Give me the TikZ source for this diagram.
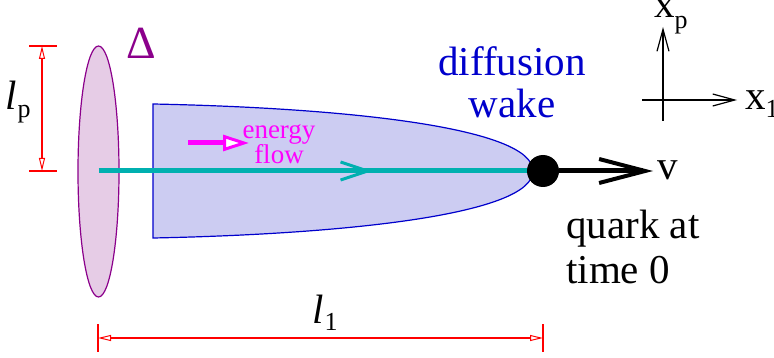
\documentclass[tikz,border=0pt]{standalone}
\usepackage{fontspec}
\setmainfont{LiberationSerif}[Extension=.ttf, UprightFont=*-Regular, ItalicFont=*-Italic, BoldFont=*-Bold, BoldItalicFont=*-BoldItalic]
\usetikzlibrary{arrows.meta,decorations.markings}
\definecolor{wakefill}{HTML}{CCCCF2}
\definecolor{wakeline}{HTML}{0000CC}
\definecolor{ellfill}{HTML}{E6CCE6}
\definecolor{elline}{HTML}{8B008B}
\definecolor{flowline}{HTML}{00B0B0}
\definecolor{mag}{HTML}{FF00FF}
\newcommand{\bigsz}{\fontsize{41}{42}\selectfont}
\newcommand{\subsz}{\fontsize{26}{26}\selectfont}
\newcommand{\flowsz}{\fontsize{27}{25}\selectfont}
\begin{document}
\begin{tikzpicture}[x=1pt,y=-1pt,
  dimline/.style={red, line width=1.1pt},
  dimtips/.style={dimline, {Triangle[length=13pt,width=6pt,fill=white,line width=1pt]}-{Triangle[length=13pt,width=6pt,fill=white,line width=1pt]}},
  axis/.style={line width=1.2pt, -{Straight Barb[length=22pt,width=12pt,line width=1.2pt]}},
  lbl/.style={inner sep=0pt, font=\bigsz}]
\useasboundingbox (0,0) rectangle (774,358);

% ellipse (Delta)
\draw[fill=ellfill, draw=elline, line width=1.2pt] (98.5,171.5) ellipse [x radius=20.5, y radius=125.5];
\node[lbl, text=elline, font=\fontsize{46}{46}\selectfont] (delta) at (141,43) {Δ};

% wake
\draw[fill=wakefill, draw=wakeline, line width=1.2pt]
  (153,104) .. controls (350,108) and (533,128) .. (533,171)
  .. controls (533,214) and (350,234) .. (153,238) -- cycle;

% coordinates
\coordinate (ec) at (98.5,171);
\coordinate (qc) at (543,171);
\coordinate (vtip) at (653,171);

% energy line with mid arrow
\draw[flowline, line width=5pt, postaction={decorate},
  decoration={markings, mark=at position 0.616 with {\arrow{Straight Barb[length=27pt,width=18pt,line width=3pt]}}}]
  (ec) -- (qc);

% quark dot and velocity arrow
\node[circle, fill=black, minimum size=32pt, inner sep=0pt] (q) at (qc) {};
\draw[line width=5pt, -{Straight Barb[length=46pt,width=24pt,line width=4pt]}] (q.east) -- (vtip);
\node[lbl, anchor=base west] (v) at (657,180) {v};

% energy flow
\coordinate (ef0) at (188,143);
\coordinate (ef1) at (249,143);
\draw[mag, line width=5pt, -{Triangle[length=26pt,width=16pt,fill=white,line width=3pt]}] (ef0) -- (ef1);
\node[inner sep=0pt, text=mag, font=\flowsz, align=center] (eflbl) at (279,144.5) {energy\\flow};

% diffusion wake label
\node[inner sep=0pt, text=wakeline, font=\bigsz, align=center] (wlbl) at (512,82) {diffusion\\wake};

% quark label
\node[inner sep=0pt, font=\fontsize{41}{45}\selectfont, align=left, anchor=west] (qlbl) at (566,247) {quark at\\time 0};

% axes
\coordinate (ax0) at (663,121);
\coordinate (axp) at (663,27);
\coordinate (ah0) at (642,100);
\coordinate (ah1) at (737,100);
\draw[axis] (ax0) -- (axp);
\draw[axis] (ah0) -- (ah1);
\node[lbl, anchor=base west] (xp) at (654,18) {x\raisebox{-11pt}{\subsz p}};
\node[lbl, anchor=base west] (x1) at (745,110) {x\raisebox{-8pt}{\subsz 1}};

% l_p dimension
\coordinate (lpt0) at (29,46);
\coordinate (lpt1) at (57,46);
\coordinate (lpb0) at (29,171);
\coordinate (lpb1) at (57,171);
\draw[dimline] (lpt0) -- (lpt1);
\draw[dimline] (lpb0) -- (lpb1);
\coordinate (lpa) at (42,46);
\coordinate (lpb) at (42,171);
\draw[dimtips] (lpa) -- (lpb);
\node[lbl, anchor=base west] (lp) at (5,110) {\itshape l\hspace{1pt}\raisebox{-8pt}{\upshape\subsz p}};

% l_1 dimension
\coordinate (l1a0) at (98,324);
\coordinate (l1a1) at (98,352);
\coordinate (l1b0) at (543,324);
\coordinate (l1b1) at (543,352);
\draw[dimline] (l1a0) -- (l1a1);
\draw[dimline] (l1b0) -- (l1b1);
\coordinate (l1a) at (98,338);
\coordinate (l1b) at (543,338);
\draw[dimtips] (l1a) -- (l1b);
\node[lbl, anchor=base west] (l1) at (312,323) {\itshape l\hspace{1pt}\raisebox{-7pt}{\upshape\subsz 1}};
\end{tikzpicture}
\end{document}
